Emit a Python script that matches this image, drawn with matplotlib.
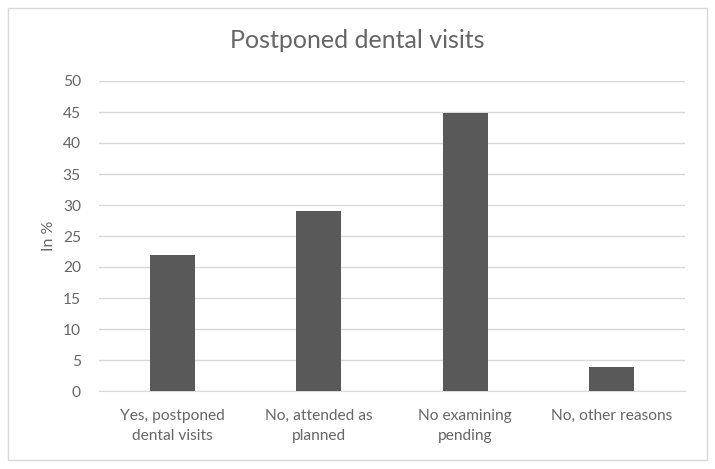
import matplotlib
matplotlib.use("Agg")
import matplotlib.pyplot as plt
from matplotlib.patches import Rectangle

# data
categories = ["Yes, postponed\ndental visits", "No, attended as\nplanned",
              "No examining\npending", "No, other reasons"]
values = [21.9, 29.1, 44.9, 3.8]
yticks = [0, 5, 10, 15, 20, 25, 30, 35, 40, 45, 50]

text_col = "#666666"
plt.rcParams['font.family'] = ['Lato', 'DejaVu Sans']

fig = plt.figure(figsize=(7.15, 4.69), dpi=100)
W, H = 715, 469
ax = fig.add_axes([99 / W, 1 - 391 / H, (685 - 99) / W, (391 - 81) / H])

x = list(range(len(categories)))
ax.bar(x, values, width=0.31, color="#595959", zorder=3)

ax.set_xlim(-0.5, len(categories) - 0.5)
ax.set_ylim(0, 50)
ax.set_yticks(yticks)
ax.set_xticks(x)
ax.set_xticklabels(categories, color=text_col, fontsize=11.2, linespacing=1.55)
ax.tick_params(axis="y", colors=text_col, labelsize=11.2, length=0, pad=13)
ax.tick_params(axis="x", length=0, pad=13)
for lab in ax.get_yticklabels():
    lab.set_color(text_col)

ax.grid(axis="y", color="#d9d9d9", linewidth=1, zorder=0)
for s in ["top", "right", "left"]:
    ax.spines[s].set_visible(False)
ax.spines["bottom"].set_color("#d9d9d9")

ax.set_ylabel("In %", color=text_col, fontsize=11.5, labelpad=5)
fig.text(0.5, 1 - 40 / H, "Postponed dental visits", ha="center", va="center",
         color=text_col, fontsize=18)

# chart border
fig.patches.append(Rectangle((8 / W, 1 - 460 / H), (707 - 8) / W, (460 - 8) / H,
                             transform=fig.transFigure, fill=False,
                             edgecolor="#d9d9d9", linewidth=1))

fig.savefig("out.png", dpi=100)
